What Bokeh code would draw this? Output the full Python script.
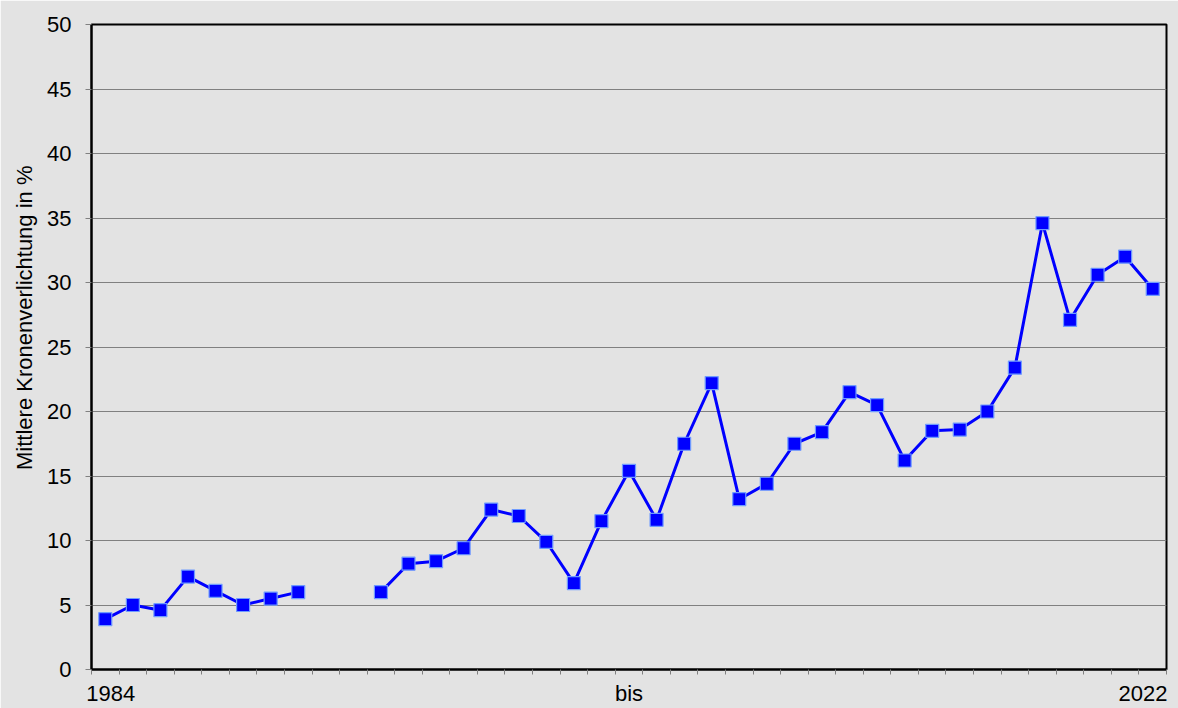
import math
from bokeh.plotting import figure
from bokeh.models import FixedTicker, Range1d, ColumnDataSource, Title
from bokeh.embed import file_html
from bokeh.resources import INLINE

years = list(range(1984, 2023))
values = [3.9, 5.0, 4.6, 7.2, 6.1, 5.0, 5.5, 6.0, float("nan"), float("nan"),
          6.0, 8.2, 8.4, 9.4, 12.4, 11.9, 9.9, 6.7, 11.5, 15.4,
          11.6, 17.5, 22.2, 13.2, 14.4, 17.5, 18.4, 21.5, 20.5, 16.2,
          18.5, 18.6, 20.0, 23.4, 34.6, 27.1, 30.6, 32.0, 29.5]
x_label_texts = ["1984", "bis", "2022"]
y_ticks = list(range(0, 55, 5))
y_title = "Mittlere Kronenverlichtung in %"

bg = "#e3e3e3"
font = "Liberation Sans"

# label anchors: first year, middle year, last year (nudged inward like the original)
x_label_pos = [years[0] + 0.2, years[len(years) // 2], years[-1] - 0.35]
x_labels = dict(zip(x_label_pos, x_label_texts))

p = figure(width=1178, height=708, output_backend="svg", toolbar_location=None,
           x_range=Range1d(years[0] - 0.5, years[-1] + 0.5), y_range=Range1d(0, 50),
           min_border_left=91, min_border_right=12, min_border_top=24, min_border_bottom=38)
p.background_fill_color = bg
p.border_fill_color = bg
p.outline_line_color = "black"
p.outline_line_width = 2

src = ColumnDataSource(dict(x=years, y=values))
p.line("x", "y", source=src, line_color="#0000ff", line_width=3)
p.scatter("x", "y", source=src, marker="square", size=13, fill_color="#0000ff",
          line_color="#6f9bff", line_width=1.2)

xt = FixedTicker(ticks=x_label_pos,
                 minor_ticks=[years[0] - 0.5 + i for i in range(len(years) + 1)])
p.xaxis.ticker = xt
p.xaxis.major_label_overrides = x_labels
p.xaxis.major_tick_out = 0
p.xaxis.major_tick_in = 0
p.xaxis.minor_tick_out = 5
p.xaxis.minor_tick_in = 0
p.xaxis.minor_tick_line_color = "#808080"
p.xaxis.axis_line_color = "black"
p.xaxis.axis_line_width = 2
p.xaxis.major_label_text_font = font
p.xaxis.major_label_text_font_size = "22px"
p.xaxis.major_label_text_color = "black"
p.xaxis.major_label_standoff = 6
p.xgrid.visible = False

p.yaxis.ticker = FixedTicker(ticks=y_ticks, minor_ticks=[])
p.yaxis.major_tick_out = 6
p.yaxis.major_tick_in = 0
p.yaxis.major_tick_line_color = "#808080"
p.yaxis.axis_line_color = "black"
p.yaxis.axis_line_width = 2
p.yaxis.major_label_text_font = font
p.yaxis.major_label_text_font_size = "22px"
p.yaxis.major_label_text_color = "black"
p.yaxis.major_label_standoff = 14
p.ygrid.grid_line_color = "#808080"
p.ygrid.grid_line_width = 1

ytitle = Title(text=y_title, align="right", offset=141, text_font=font,
               text_font_size="22px", text_font_style="normal", text_color="black",
               standoff=16)
p.add_layout(ytitle, "left")

open("out.html", "w").write(file_html(p, INLINE))
